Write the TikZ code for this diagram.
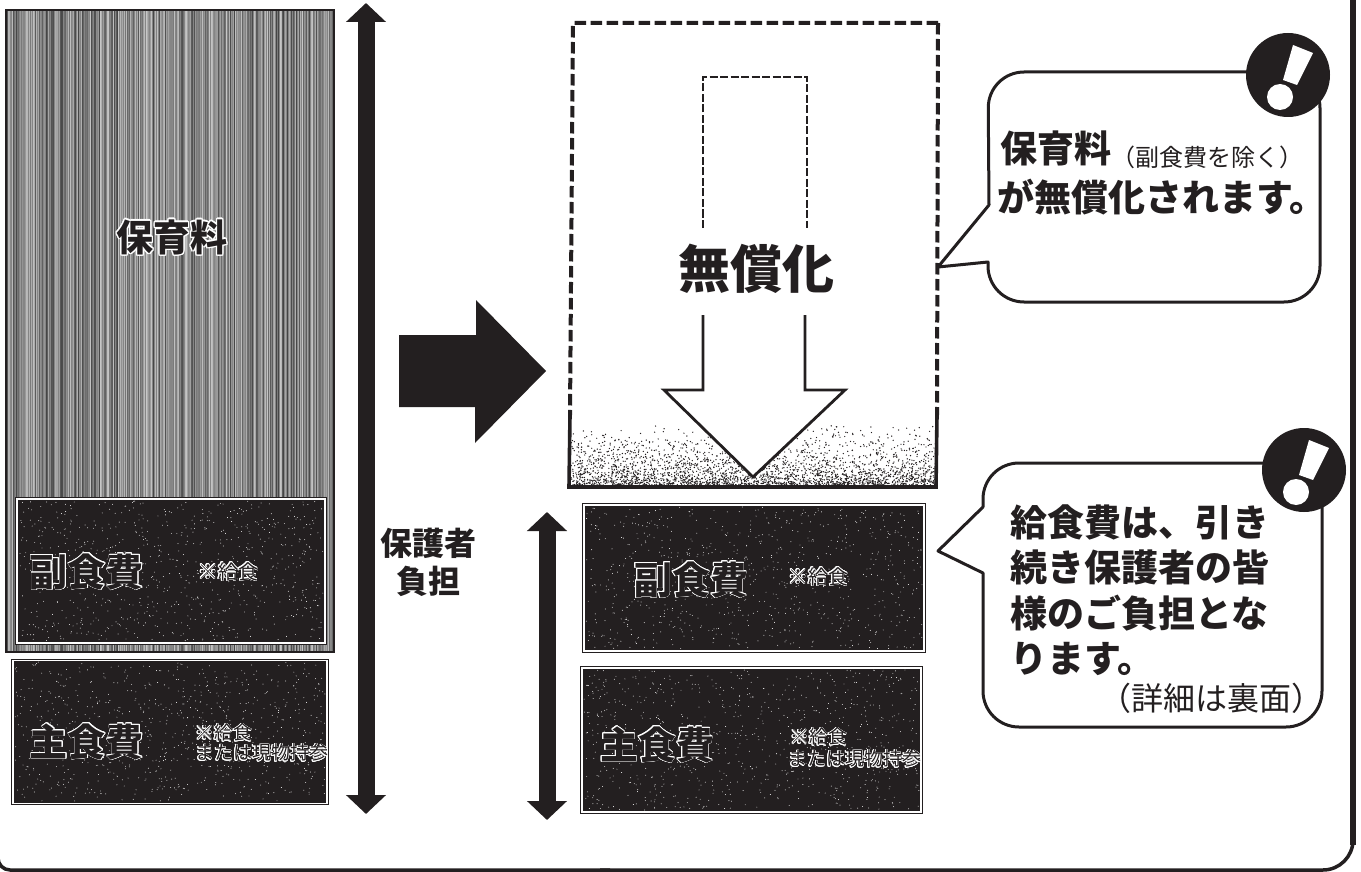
\documentclass[tikz,border=0pt]{standalone}
\usepackage{fontspec}
\setmainfont{Noto Sans CJK JP}
\usepackage[copies]{contour}
\usetikzlibrary{
	arrows.meta
}
\definecolor{ink}{HTML}{231F20}
\contournumber{16}
\tikzset{
	every node/.style={inner sep=0mm, text=ink}
	,darkbox/.style={
		draw=ink
		,fill=ink
		,double=white
		,double distance=1.4pt
		,line width=.9pt
		,rectangle
	}
	,burden/.style={
		ink
		,line width=17pt
		,{Triangle[length=19pt,width=39pt]}-{Triangle[length=19pt,width=39pt]}
	}
	,balloon/.style={
		draw=ink
		,fill=white
		,line width=3pt
		,line join=round
		,line cap=round
	}
	,badge/.style={
		circle
		,fill=ink
		,minimum size=84pt
	}
	,framedash/.style={
		ink
		,line width=4pt
		,dash pattern=on 11.5pt off 4.5pt
	}
	,innerdash/.style={
		ink
		,line width=2.8pt
		,dash pattern=on 8pt off 2.5pt
	}
	,bigtext/.style={font=\fontsize{#1}{#1}\selectfont\bfseries, align=left}
	,smalltext/.style={font=\fontsize{#1}{#1}\selectfont, align=left}
}
\newcommand{\hollow}[1]{\contourlength{.7pt}\contour{white}{\textcolor{ink}{#1}}}
\begin{document}
\begin{tikzpicture}[x=1pt, y=-1pt]
\useasboundingbox (0,0) rectangle (1361,872);
\pgfmathsetseed{7}

\draw[ink, line width=3.5pt, rounded corners=30pt] (1353,700) -- (1353,870) -- (600,870);
\draw[ink, line width=3.5pt, rounded corners=12pt] (610,870) -- (-2,870) -- (-2,840);
\draw[ink, line width=5.5pt] (1353,-10) -- (1353,845);

\fill[black!48] (6,10) rectangle (334,652);
\foreach \hx in {7,8.3,...,333} {
	\pgfmathsetmacro{\hg}{int(22+rnd*52)}
	\draw[black!\hg, line width=1pt] (\hx,11) -- (\hx,651);
}
\draw[ink, line width=1.6pt] (6,10) rectangle (334,652);
\node[bigtext=37] (hoikuL) at (172,238) {\contourlength{1.4pt}\contour{white}{\textcolor{ink}{保育料}}};

\node[darkbox, minimum width=308pt, minimum height=144pt] (fukuL) at (171,571) {};
\node[darkbox, minimum width=314pt, minimum height=143pt] (shuL) at (170,732) {};
\node[darkbox, minimum width=340pt, minimum height=146pt] (fukuR) at (754,578) {};
\node[darkbox, minimum width=339pt, minimum height=144pt] (shuR) at (751.5,740) {};
\foreach \bx/\by/\bw/\bh in {19/501/304/140, 15/662/310/139, 586/507/336/142, 584/670/335/140}
	\foreach \i in {1,...,800}
		\fill[white] ({\bx+rnd*\bw},{\by+rnd*\bh}) circle (.45);

\node[bigtext=38] (fukuLtext) at (87,572) {\hollow{副食費}};
\node[smalltext=20] (fukuLnote) at (228,572) {\hollow{※給食}};
\node[bigtext=38] (shuLtext) at (87,742) {\hollow{主食費}};
\node[smalltext=19, anchor=west] (shuLnote) at (195,733) {\hollow{※給食}};
\node[smalltext=19, anchor=west] (shuLnote2) at (195,753) {\hollow{または現物持参}};
\node[bigtext=38] (fukuRtext) at (691,580) {\hollow{副食費}};
\node[smalltext=20] (fukuRnote) at (818,577) {\hollow{※給食}};
\node[bigtext=38] (shuRtext) at (657,745) {\hollow{主食費}};
\node[smalltext=19, anchor=west] (shuRnote) at (790,737) {\hollow{※給食}};
\node[smalltext=19, anchor=west] (shuRnote2) at (788,759) {\hollow{または現物持参}};

\coordinate (leftTop) at (366,3);
\coordinate (leftBot) at (366,814);
\draw[burden] (leftTop) -- (leftBot);
\coordinate (rightTop) at (547,512);
\coordinate (rightBot) at (547,820);
\draw[burden] (rightTop) -- (rightBot);
\node[bigtext=32, align=center] (guardian) at (428,562) {保護者\\[6pt]負担};

\fill[ink] (399,335) -- (476,335) -- (476,300) -- (546,371) -- (475,443) -- (475,407) -- (399,407) -- cycle;

\foreach \i in {1,...,2800} {
	\pgfmathsetmacro{\gy}{485-rnd*rnd*62}
	\fill[ink] ({571+rnd*365},\gy) circle (.7);
}
\draw[framedash] (938,23) -- (573,23) -- (570,415);
\draw[framedash] (938,23) -- (937,415);
\draw[ink, line width=3.6pt] (570,415) -- (569,487) -- (936,487) -- (937,415);
\draw[innerdash] (703,228) -- (703,77) -- (807,77) -- (807,228);
\node[bigtext=52] (free) at (756,269) {無償化};
\draw[ink, fill=white, line width=2.8pt] (703,315) -- (703,390) -- (664,390) -- (753,477) -- (845,390) -- (805,390) -- (805,315);

\draw[balloon] (989,205) -- (938,267) -- (988,262) [rounded corners=36pt] -- (988,302) -- (1320,302) -- (1320,72) -- (988,72) -- (989,205);
\node[badge] (markA) at (1288,75) {};
\fill[white] (1293,45) -- (1313,53) -- (1297,85) -- (1283,80) -- cycle;
\fill[white] (1280,97) circle (13);
\node[bigtext=37, anchor=west] (balloonA) at (1000,148) {保育料};
\node[smalltext=24, anchor=west] (balloonAnote) at (1111,157) {（副食費を除く）};
\node[bigtext=37, anchor=west] (balloonA2) at (997,197) {が無償化されます。};

\draw[balloon] (983,507) -- (938,551) -- (983,573) [rounded corners=36pt] -- (983,727) -- (1322,727) -- (1322,463) -- (983,463) -- (983,507);
\node[badge] (markB) at (1304,470) {};
\fill[white] (1309,440) -- (1329,448) -- (1313,480) -- (1299,475) -- cycle;
\fill[white] (1296,492) circle (13);
\node[font=\fontsize{37}{45.5}\selectfont\bfseries, align=left, anchor=west] (balloonB) at (1010,590) {給食費は、引き\\続き保護者の皆\\様のご負担とな\\ります。};
\node[smalltext=32] (balloonBnote) at (1211,698) {（詳細は裏面）};
\end{tikzpicture}
\end{document}
